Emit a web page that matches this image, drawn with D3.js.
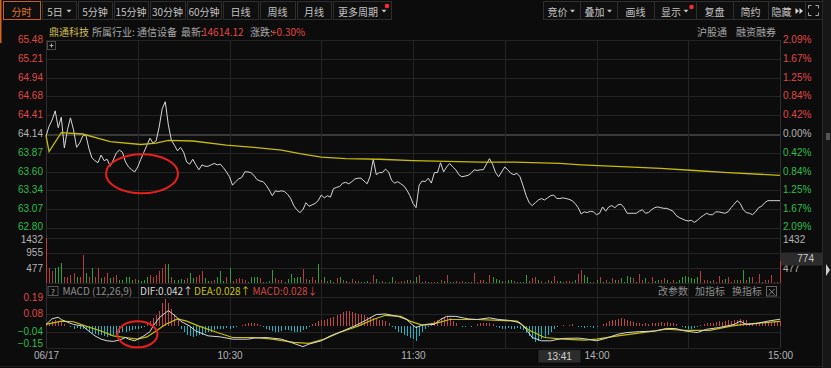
<!DOCTYPE html>
<html><head><meta charset="utf-8">
<script src="https://cdn.jsdelivr.net/npm/d3@7"></script>
<style>
html,body{margin:0;padding:0;background:#0c0c0c;overflow:hidden}
svg{display:block}
text{font-family:"Noto Sans CJK SC","Noto Sans",sans-serif;font-size:10px}
.num text{font-family:"Liberation Sans",Arial,sans-serif}
</style></head><body>
<svg id="c" width="831" height="368"></svg>
<script>
// ---------------- data ----------------
const preClose = 64.14;
const priceTicks = [65.48,65.21,64.94,64.68,64.41,64.14,63.87,63.60,63.34,63.07,62.80];
const pctTickLabels = ["2.09%","1.67%","1.25%","0.84%","0.42%","0.00%","0.42%","0.84%","1.25%","1.67%","2.09%"];
const volTicks = [1432,955,477];
const macdTicks = [0.19,0.08,-0.04,-0.15];
const timeTickMinutes = [0,60,120,180,240];
const timeTickLabels = ["06/17","10:30","11:30","14:00","15:00"];
const gridMinutes = [0,30,60,90,120,150,180,210,240];

const prices = [64.11,64.25,64.34,64.47,64.23,64.38,63.94,64.20,64.37,64.20,
63.95,64.01,64.11,64.13,63.94,63.80,63.76,63.73,63.84,63.76,
63.78,63.68,63.77,63.87,63.91,63.88,63.74,63.67,63.63,63.60,
63.67,63.78,63.88,63.98,64.08,64.01,64.04,64.24,64.50,64.60,
64.27,64.05,63.98,63.90,63.95,63.88,63.74,63.71,63.78,63.70,
63.63,63.70,63.68,63.68,63.70,63.72,63.70,63.71,63.66,63.60,
63.53,63.41,63.46,63.50,63.52,63.60,63.60,63.59,63.55,63.49,
63.47,63.46,63.41,63.34,63.26,63.33,63.32,63.33,63.32,63.28,
63.22,63.12,63.06,63.02,63.06,63.16,63.11,63.13,63.15,63.19,
63.27,63.23,63.26,63.24,63.36,63.38,63.39,63.44,63.45,63.43,
63.46,63.50,63.51,63.51,63.47,63.43,63.54,63.78,63.56,63.59,
63.59,63.64,63.60,63.48,63.44,63.46,63.43,63.40,63.34,63.26,
63.15,63.09,63.41,63.47,63.46,63.51,63.44,63.59,63.59,63.73,
63.60,63.67,63.72,63.67,63.63,63.56,63.53,63.54,63.55,63.58,
63.63,63.62,63.63,63.63,63.71,63.79,63.71,63.59,63.53,63.60,
63.67,63.63,63.58,63.56,63.58,63.53,63.40,63.26,63.16,63.12,
63.16,63.20,63.22,63.20,63.23,63.26,63.27,63.22,63.22,63.23,
63.22,63.21,63.19,63.15,63.09,63.00,63.03,63.02,63.04,63.03,
62.99,63.01,63.10,63.04,63.10,63.12,63.09,63.13,63.14,63.09,
63.01,63.01,63.01,63.01,63.04,63.06,63.01,63.02,63.06,63.09,
63.10,63.09,63.08,63.08,63.06,63.04,62.98,62.95,62.93,62.91,
62.90,62.91,62.88,62.91,62.95,62.98,63.01,62.99,62.99,63.03,
63.03,63.02,63.01,63.03,63.09,63.14,63.19,63.15,63.06,63.02,
63.01,62.99,63.03,63.09,63.11,63.16,63.19,63.19,63.19,63.19,
63.19];

const avgMinutes = [0,1,5,12,21,31,36,40,48,59,68,77,83,90,98,109,120,131,142,153,168,175,190,201,212,223,240];
const avgPrices = [64.12,63.89,64.16,64.14,64.03,63.99,64.01,64.05,64.04,63.98,63.95,63.91,63.86,63.81,63.79,63.78,63.76,63.75,63.74,63.74,63.72,63.70,63.67,63.65,63.62,63.59,63.55];

const volumes = [1432,490,380,490,520,650,185,215,270,325,
185,215,890,325,215,490,215,490,160,215,
325,160,185,270,110,110,185,215,110,140,
110,75,110,185,270,215,270,380,490,600,
620,215,110,110,140,110,160,325,160,215,
270,400,160,60,60,110,185,380,60,185,
490,60,140,160,140,110,50,185,215,185,
160,40,40,60,430,160,110,110,50,140,
300,160,185,215,465,140,110,215,110,600,
110,215,75,110,50,160,185,110,75,50,
130,75,75,40,40,75,50,270,140,50,
75,40,50,215,75,40,75,75,110,110,
60,185,250,50,75,40,50,40,40,110,
75,270,40,40,75,40,75,40,40,50,
325,50,110,110,50,270,185,140,110,75,
75,110,110,75,40,50,50,270,75,160,
215,110,75,40,110,75,240,75,75,40,
75,75,50,110,295,435,270,185,50,40,
110,185,50,110,50,160,110,110,160,50,
240,185,160,50,295,110,160,50,215,75,
110,110,160,110,50,110,50,110,215,240,
215,160,140,185,400,110,110,75,110,50,
240,110,140,215,50,110,110,110,410,110,
185,185,50,295,50,110,110,270,50,50,
700];

const volUp = [1,1,1,0,0,0,1,1,1,1, 0,1,1,0,1,0,1,1,0,1, 1,0,1,1,0,0,0,0,0,1, 0,0,0,0,1,1,1,1,1,1,
0,1,0,0,0,0,1,0,0,1, 1,1,0,0,1,1,0,0,0,1, 0,1,1,1,1,1,0,0,0,0, 1,0,1,0,0,1,1,1,0,0,
0,0,0,0,1,1,0,1,1,0, 1,0,1,0,0,1,0,1,0,1, 1,0,1,0,0,0,1,1,0,1, 1,0,0,0,1,1,1,1,0,1,
0,0,1,0,1,0,1,1,0,1, 0,1,0,0,1,0,1,0,1,0, 1,1,1,1,0,1,0,0,0,0, 1,0,0,1,0,0,0,0,1,1,
1,0,1,0,1,0,1,1,0,0, 1,1,0,0,1,1,0,0,0,1, 0,1,0,1,0,1,0,1,0,0, 0,0,1,0,1,1,0,1,1,0,
0,1,1,0,1,1,0,0,0,0, 0,0,0,0,1,1,1,0,1,1, 1,1,0,1,1,1,0,1,0,1, 0,1,1,1,0,1,1,1,1,1, 1];

const difMinutes = [0,2,4,5,7,9,12,14,16,18,20,22,24,26,27,29,30,32,34,35,37,39,40,41,43,44,47,49,53,57,61,66,68,72,77,80,84,86,90,93,97,102,105,108,111,115,118,119,121,123,127,129,131,134,138,141,145,148,152,155,157,159,162,165,169,174,177,180,183,187,190,194,199,203,206,209,213,216,220,225,227,229,232,236,240];
const difValues = [0.007,0.045,0.055,0.04,0.022,0.007,-0.004,-0.037,-0.069,-0.091,-0.102,-0.106,-0.097,-0.08,-0.091,-0.102,-0.091,-0.069,-0.041,-0.004,0.051,0.084,0.099,0.084,0.051,0.029,-0.004,-0.037,-0.069,-0.076,-0.091,-0.091,-0.084,-0.08,-0.091,-0.112,-0.141,-0.124,-0.102,-0.069,-0.037,0.007,0.04,0.073,0.077,0.061,0.04,0.018,-0.014,0.003,0.007,0.04,0.061,0.061,0.044,0.04,0.051,0.04,0.033,0.018,-0.025,-0.08,-0.102,-0.102,-0.086,-0.084,-0.091,-0.102,-0.086,-0.058,-0.047,-0.041,-0.037,-0.019,-0.021,-0.037,-0.047,-0.025,-0.014,0.007,0.029,0.007,0.012,0.029,0.042];
const deaMinutes = [0,5,9,13,18,22,26,30,33,36,39,43,46,50,56,61,68,74,81,86,91,96,102,107,111,116,119,123,128,132,141,150,154,158,163,169,176,180,187,195,203,209,217,224,228,240];
const deaValues = [0.007,0.029,0.025,-0.004,-0.037,-0.069,-0.08,-0.091,-0.076,-0.037,0.007,0.044,0.029,-0.004,-0.047,-0.08,-0.08,-0.091,-0.112,-0.119,-0.091,-0.047,-0.004,0.04,0.068,0.061,0.029,0.003,0.018,0.04,0.04,0.033,0.029,-0.032,-0.08,-0.091,-0.097,-0.091,-0.069,-0.047,-0.025,-0.032,-0.032,-0.004,0.007,0.028];
const macdHist = [0.01,0.02,0.03,0.035,0.03,0.025,0.01,-0.005,-0.01,-0.02,
-0.015,-0.02,-0.025,-0.03,-0.04,-0.05,-0.055,-0.06,-0.065,-0.07,
-0.075,-0.07,-0.065,-0.06,-0.05,-0.045,-0.04,-0.035,-0.03,-0.025,
-0.02,-0.015,-0.01,0.01,0.03,0.05,0.07,0.1,0.15,0.18,
0.15,0.11,0.08,0.05,-0.02,-0.04,-0.06,-0.07,-0.075,-0.07,
-0.065,-0.06,-0.05,-0.045,-0.04,-0.03,-0.025,-0.02,-0.02,-0.015,
-0.02,-0.015,-0.01,-0.005,0.005,0.01,0.015,0.02,0.015,0.01,
0.005,-0.01,-0.02,-0.03,-0.035,-0.04,-0.04,-0.035,-0.03,-0.03,
-0.035,-0.04,-0.045,-0.04,-0.03,-0.02,-0.01,0.01,0.02,0.03,
0.035,0.04,0.045,0.05,0.06,0.07,0.08,0.09,0.1,0.095,
0.09,0.085,0.08,0.075,0.07,0.06,0.055,0.05,0.045,0.04,
0.035,0.03,0.02,-0.01,-0.02,-0.04,-0.05,-0.06,-0.07,-0.08,
-0.09,-0.1,-0.07,-0.04,-0.02,-0.01,0.02,0.03,0.04,0.05,
0.06,0.065,0.05,0.03,0.02,-0.005,-0.01,-0.01,-0.005,-0.01,
-0.005,0.01,0.015,0.02,0.02,0.015,0.01,-0.01,-0.015,-0.02,
-0.02,-0.015,-0.02,-0.02,-0.015,-0.02,-0.03,-0.05,-0.07,-0.09,
-0.11,-0.1,-0.09,-0.08,-0.06,-0.04,-0.02,-0.01,-0.005,0.005,
-0.005,0.005,0.01,-0.005,-0.01,-0.01,-0.015,-0.01,-0.01,-0.015,
-0.01,-0.005,0.01,0.02,0.03,0.035,0.04,0.045,0.05,0.045,
0.04,0.03,0.025,0.02,0.015,0.01,0.015,0.01,0.015,0.02,
0.02,0.025,0.02,0.025,0.02,0.015,0.01,-0.005,-0.01,-0.015,
-0.02,-0.02,-0.015,-0.01,0.005,0.01,0.015,0.02,0.02,0.025,
0.03,0.025,0.03,0.035,0.03,0.035,0.04,0.045,0.04,0.035,
0.02,0.02,0.015,0.02,0.025,0.025,0.02,0.025,0.03,0.03,
0.028];

// annotation circles (minute, value)
const priceMark = {m:31.4, v:63.573, rx:36, ry:19.5};
const macdMark = {m:29.9, v:-0.059, rx:20, ry:13};
const cursorMinute = 161, cursorLabel = "13:41", cursorVolLabel = "774";

// ---------------- drawing ----------------
const W=831,H=368,L=46,R=780;
const RED="#e04848", GREEN="#2fbd4e", GRAY="#b4b4b4";
const svg=d3.select("#c");
svg.append("rect").attr("width",W).attr("height",H).attr("fill","#0c0c0c");

const x=d3.scaleLinear().domain([0,240]).range([L,R]);
const yP=d3.scaleLinear().domain([62.80,65.48]).range([228,40]);
const yV=d3.scaleLinear().domain([0,1432]).range([283.3,238.3]);
const yM=d3.scaleLinear().domain([-0.15,0.19]).range([348,297]);
const px=v=>Math.round(v)+0.5;

const grid=svg.append("g").attr("stroke","#242424").attr("stroke-width",1).attr("shape-rendering","crispEdges");
priceTicks.forEach(v=>{
  grid.append("line").attr("x1",L).attr("x2",R).attr("y1",px(yP(v))).attr("y2",px(yP(v)))
    .attr("stroke",v===preClose?"#3a3a3a":"#242424").attr("stroke-width",v===preClose?2:1);
});
[0].concat(volTicks).forEach(v=>grid.append("line").attr("x1",L).attr("x2",R).attr("y1",px(yV(v))).attr("y2",px(yV(v))));
macdTicks.forEach(v=>grid.append("line").attr("x1",L).attr("x2",R).attr("y1",px(yM(v))).attr("y2",px(yM(v))));
gridMinutes.forEach(m=>grid.append("line").attr("x1",px(x(m))).attr("x2",px(x(m))).attr("y1",40).attr("y2",348)
  .attr("stroke",(m===0||m===240)?"#2e2e2e":"#242424"));
grid.append("line").attr("x1",0).attr("x2",822).attr("y1",366.5).attr("y2",366.5).attr("stroke","#1e1e1e");

// ----- axes -----
function styleAxis(g){g.attr("class","num");g.select(".domain").remove();g.selectAll("line").remove();
  g.selectAll("text").style("font-size","10px").attr("font-family",null);}
function clampTicks(g,scale,lo,hi){g.selectAll(".tick").attr("transform",d=>`translate(0,${Math.max(lo,Math.min(hi,scale(d)))})`);}

const leftP=svg.append("g").attr("transform",`translate(${L-1},0)`)
  .call(d3.axisLeft(yP).tickValues(priceTicks).tickSize(0).tickPadding(2).tickFormat(d3.format(".2f")));
styleAxis(leftP); clampTicks(leftP,yP,40,226.5);
leftP.selectAll("text").attr("fill",d=>d>preClose?RED:(d<preClose?GREEN:GRAY));

const rightP=svg.append("g").attr("transform",`translate(${R+1},0)`)
  .call(d3.axisRight(yP).tickValues(priceTicks).tickSize(0).tickPadding(2).tickFormat((d,i)=>pctTickLabels[i]));
styleAxis(rightP); clampTicks(rightP,yP,40,226.5);
rightP.selectAll("text").attr("fill",d=>d>preClose?RED:(d<preClose?GREEN:GRAY));

const leftV=svg.append("g").attr("transform",`translate(${L-1},0)`)
  .call(d3.axisLeft(yV).tickValues(volTicks).tickSize(0).tickPadding(2).tickFormat(d3.format("d")));
styleAxis(leftV); clampTicks(leftV,yV,240,290);
leftV.selectAll("text").attr("fill",GRAY);

const rightV=svg.append("g").attr("transform",`translate(${R+1},0)`)
  .call(d3.axisRight(yV).tickValues([1432,477]).tickSize(0).tickPadding(2).tickFormat(d3.format("d")));
styleAxis(rightV); clampTicks(rightV,yV,240,290);
rightV.selectAll("text").attr("fill",GRAY);

const leftM=svg.append("g").attr("transform",`translate(${L-1},0)`)
  .call(d3.axisLeft(yM).tickValues(macdTicks).tickSize(0).tickPadding(2).tickFormat(d3.format(".2f")));
styleAxis(leftM); clampTicks(leftM,yM,297.5,344);
leftM.selectAll("text").attr("fill",d=>d>0?RED:GREEN);

const timeAx=svg.append("g").attr("transform","translate(0,350)")
  .call(d3.axisBottom(x).tickValues(timeTickMinutes).tickSize(0).tickPadding(2).tickFormat((d,i)=>timeTickLabels[i]));
styleAxis(timeAx);
timeAx.selectAll("text").attr("fill",GRAY);

// cursor labels
const cx0=x(cursorMinute);
svg.append("rect").attr("x",cx0).attr("y",350).attr("width",42).attr("height",12.5).attr("fill","#2c2c2c");
svg.append("text").attr("x",cx0+21).attr("y",356.5).attr("text-anchor","middle").attr("dominant-baseline","central")
  .style("font-family","Liberation Sans, Arial, sans-serif").attr("fill","#d0d0d0").text(cursorLabel);
svg.append("rect").attr("x",R+1).attr("y",yV(774)-6.5).attr("width",42).attr("height",13).attr("fill","#2c2c2c");
svg.append("text").attr("x",R+34).attr("y",yV(774)).attr("text-anchor","end").attr("dominant-baseline","central")
  .style("font-family","Liberation Sans, Arial, sans-serif").attr("fill","#c8c8c8").text(cursorVolLabel);

// ----- volume bars -----
svg.append("g").attr("shape-rendering","crispEdges").selectAll("line").data(volumes).join("line")
  .attr("x1",(d,i)=>px(x(i))).attr("x2",(d,i)=>px(x(i)))
  .attr("y1",yV(0)).attr("y2",d=>yV(d))
  .attr("stroke",(d,i)=>volUp[i]?"#b83c3c":"#2e9e3c").attr("stroke-width",1);

// ----- MACD histogram -----
svg.append("g").attr("shape-rendering","crispEdges").selectAll("line").data(macdHist).join("line")
  .attr("x1",(d,i)=>px(x(i))).attr("x2",(d,i)=>px(x(i)))
  .attr("y1",yM(0)).attr("y2",d=>yM(d))
  .attr("stroke",d=>d>=0?"#c04646":"#1fb2c2").attr("stroke-width",1);

// ----- lines -----
const priceLine=d3.line().x((d,i)=>x(i)).y(d=>yP(d));
svg.append("path").attr("d",priceLine(prices)).attr("fill","none").attr("stroke","#d6d6d6").attr("stroke-width",1);
const avgLine=d3.line().x(d=>x(d[0])).y(d=>yP(d[1]));
svg.append("path").attr("d",avgLine(d3.zip(avgMinutes,avgPrices))).attr("fill","none").attr("stroke","#c4bc0c").attr("stroke-width",1.3);

const mLine=d3.line().x(d=>x(d[0])).y(d=>yM(d[1]));
svg.append("path").attr("d",mLine(d3.zip(deaMinutes,deaValues))).attr("fill","none").attr("stroke","#c8c000").attr("stroke-width",1.2);
svg.append("path").attr("d",mLine(d3.zip(difMinutes,difValues))).attr("fill","none").attr("stroke","#d8d8d8").attr("stroke-width",1);

// ----- annotations -----
svg.append("ellipse").attr("cx",x(priceMark.m)).attr("cy",yP(priceMark.v)).attr("rx",priceMark.rx).attr("ry",priceMark.ry)
  .attr("fill","none").attr("stroke","#e8201c").attr("stroke-width",2);
svg.append("ellipse").attr("cx",x(macdMark.m)).attr("cy",yM(macdMark.v)).attr("rx",macdMark.rx).attr("ry",macdMark.ry)
  .attr("fill","none").attr("stroke","#e8201c").attr("stroke-width",2);

// ----- "+" box -----
svg.append("rect").attr("x",47.5).attr("y",41.5).attr("width",8).attr("height",8).attr("fill","#0c0c0c").attr("stroke","#4a4a4a");
svg.append("path").attr("d","M49.5,45.5H53.5M51.5,43.5V47.5").attr("stroke","#aaa").attr("stroke-width",1);

// ----- header row buttons -----
const tri=(cx,cy)=>`M${cx-2.5},${cy-1.2}L${cx+2.5},${cy-1.2}L${cx},${cy+1.6}Z`;
const leftBtns=[["分时",3,40,0],["5日",42,76,1],["5分钟",78,112,0],["15分钟",114,148,0],["30分钟",150,185,0],
  ["60分钟",187,221,0],["日线",223,258,0],["周线",260,295,0],["月线",297,331,0],["更多周期",333,391,1]];
leftBtns.forEach((b,i)=>{
  const sel=i===0;
  svg.append("rect").attr("x",b[1]+0.5).attr("y",1.5).attr("width",b[2]-b[1]).attr("height",18)
    .attr("fill","#0f0f0f").attr("stroke",sel?"#c8601c":"#2e2e2e");
  const cx=(b[1]+b[2])/2 - (b[3]?4:0);
  svg.append("text").attr("x",cx).attr("y",11).attr("text-anchor","middle").attr("dominant-baseline","central")
    .attr("fill",sel?"#e2762c":"#c4c4c4").text(b[0]);
  if(b[3]) svg.append("path").attr("d",tri(b[2]-7,11)).attr("fill","#c4c4c4");
});
svg.append("circle").attr("cx",387).attr("cy",6).attr("r",2.3).attr("fill","#ff2a2a");

const rightBtns=[["竞价",543,580,1],["叠加",580,617,1],["画线",617,654,0],["显示",654,696,1],["复盘",696,733,0],["简约",733,768,0],["隐藏",768,805,2],["",805,822,3]];
rightBtns.forEach(b=>{
  svg.append("rect").attr("x",b[1]+0.5).attr("y",1.5).attr("width",b[2]-b[1]).attr("height",18)
    .attr("fill","#0f0f0f").attr("stroke","#2e2e2e");
  if(b[3]===3){
    const cx=(b[1]+b[2])/2, cy=10.5;
    svg.append("path").attr("d",`M${cx-5},${cy-2}V${cy-5}H${cx-2}M${cx+2},${cy-5}H${cx+5}V${cy-2}M${cx+5},${cy+2}V${cy+5}H${cx+2}M${cx-2},${cy+5}H${cx-5}V${cy+2}`)
      .attr("fill","none").attr("stroke","#aaa").attr("stroke-width",1);
    return;
  }
  const off=b[3]===1?4:(b[3]===2?5:0);
  const cx=(b[1]+b[2])/2-off;
  svg.append("text").attr("x",cx).attr("y",11).attr("text-anchor","middle").attr("dominant-baseline","central").attr("fill","#c4c4c4").text(b[0]);
  if(b[3]===1) svg.append("path").attr("d",tri(cx+15,11)).attr("fill","#c4c4c4");
  if(b[3]===2){
    [cx+14,cx+18].forEach(t=>svg.append("path").attr("d",`M${t},${8}L${t+3.5},${11}L${t},${14}Z`).attr("fill","#d8d8d8"));
  }
});
svg.append("circle").attr("cx",691.5).attr("cy",7).attr("r",2.3).attr("fill","#ff2a2a");

// ----- info row -----
const info=svg.append("g").attr("dominant-baseline","central");
info.append("text").attr("x",49).attr("y",31.5).attr("fill","#cdbd52").text("鼎通科技");
info.append("text").attr("x",92).attr("y",31.5).attr("fill","#a8a8a8").text("所属行业: 通信设备");
info.append("text").attr("x",181).attr("y",31.5).attr("fill","#a8a8a8").text("最新:");
info.append("text").attr("x",202).attr("y",31.5).attr("fill",RED).text("14614.12");
info.append("text").attr("x",250).attr("y",31.5).attr("fill","#a8a8a8").text("涨跌:");
info.append("text").attr("x",271).attr("y",31.5).attr("fill",RED).text("+0.30%");
info.append("text").attr("x",697).attr("y",31.5).attr("fill","#a8a8a8").text("沪股通");
info.append("text").attr("x",736).attr("y",31.5).attr("fill","#a8a8a8").text("融资融券");

// ----- MACD header row -----
const mh=svg.append("g").attr("dominant-baseline","central");
svg.append("rect").attr("x",48).attr("y",286.5).attr("width",10).attr("height",9).attr("fill","none").attr("stroke","#555");
mh.append("text").attr("x",53).attr("y",291).attr("text-anchor","middle").attr("fill","#aaa").style("font-size","8px").text("?");
mh.append("text").attr("x",62.5).attr("y",290.5).attr("fill","#8c8c8c").text("MACD (12,26,9)");
mh.append("text").attr("x",140).attr("y",290.5).attr("fill","#d4d4d4").text("DIF:0.042↑");
mh.append("text").attr("x",194).attr("y",290.5).attr("fill","#c8c000").text("DEA:0.028↑");
mh.append("text").attr("x",252.5).attr("y",290.5).attr("fill","#d04646").text("MACD:0.028↓");
mh.append("text").attr("x",658).attr("y",290.5).attr("fill","#8c8c8c").text("改参数");
mh.append("text").attr("x",695).attr("y",290.5).attr("fill","#8c8c8c").text("加指标");
mh.append("text").attr("x",732).attr("y",290.5).attr("fill","#8c8c8c").text("换指标");
svg.append("rect").attr("x",766.5).attr("y",286.5).attr("width",10).attr("height",9.5).attr("fill","none").attr("stroke","#666");
svg.append("path").attr("d","M769,289L774.5,294.5M774.5,289L769,294.5").attr("stroke","#888").attr("stroke-width",1);

// ----- edges -----
svg.append("rect").attr("x",0).attr("y",0).attr("width",1.5).attr("height",43).attr("fill","#d2641e");
svg.append("rect").attr("x",823).attr("y",0).attr("width",8).attr("height",H).attr("fill","#171717");
svg.append("line").attr("x1",822.5).attr("x2",822.5).attr("y1",0).attr("y2",H).attr("stroke","#2a2a2a");
svg.append("rect").attr("x",826).attr("y",133).attr("width",4).attr("height",7).attr("fill","#555");
svg.append("path").attr("d","M826,264L830,270L826,276Z").attr("fill","#cfcfcf");
</script>
</body></html>
